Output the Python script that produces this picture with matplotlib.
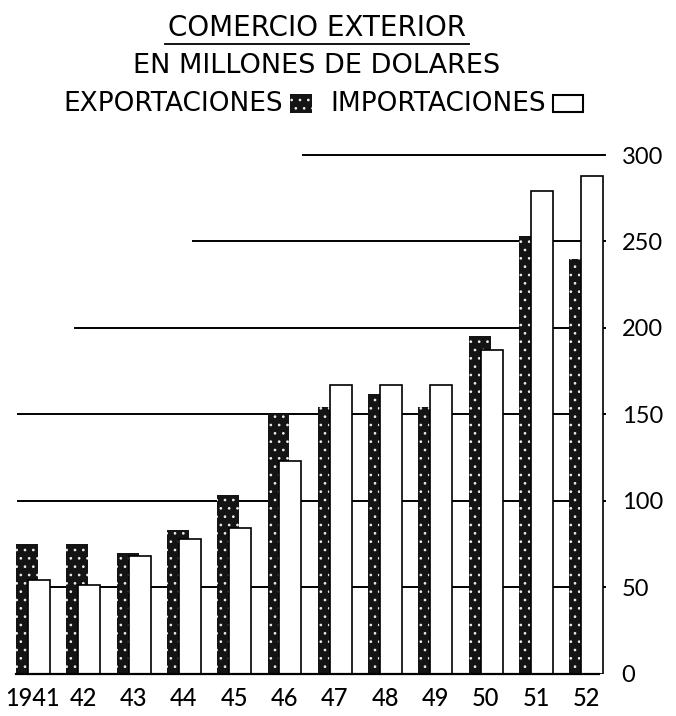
import matplotlib
matplotlib.use("Agg")
import matplotlib.pyplot as plt
from matplotlib.lines import Line2D
from matplotlib.patches import Rectangle

# data (millones de dolares)
years = ["1941", "42", "43", "44", "45", "46", "47", "48", "49", "50", "51", "52"]
exportaciones = [75, 75, 70, 83, 103, 150, 154, 162, 154, 195, 253, 240]
importaciones = [54, 51, 68, 78, 84, 123, 167, 167, 167, 187, 279, 288]
yticks = [0, 50, 100, 150, 200, 250, 300]

# gridlines start at a staircase, as fraction of axes width
grid_start = {50: 0.017, 100: 0.017, 150: 0.017, 200: 0.112, 250: 0.31, 300: 0.494}

W, H = 676, 716
fig = plt.figure(figsize=(W / 100, H / 100), dpi=100)
fig.patch.set_facecolor("white")

def fx(px):
    return px / W

def fy(px):
    return (H - px) / H

plt.rcParams["hatch.linewidth"] = 0.7
DARK = "#141414"

ax = fig.add_axes([fx(8), fy(673.5), fx(605) - fx(8), fy(155) - fy(673.5)])
ax.set_xlim(-0.497, 11.372)
ax.set_ylim(0, 300)

for v, s in grid_start.items():
    ax.axhline(v, xmin=s, xmax=1, color="black", lw=1.4, zorder=1, clip_on=False)
ax.axhline(0, xmin=0.013, xmax=0.99, color="black", lw=1.6, zorder=4, clip_on=False)

x = list(range(len(years)))
bw = 0.437
off = 0.119
ax.bar([i - off for i in x], exportaciones, width=bw, color=DARK,
       edgecolor="#f0f0f0", linewidth=0, hatch="..", zorder=2)
ax.bar([i + off for i in x], importaciones, width=bw, color="white",
       edgecolor="black", linewidth=1.2, zorder=3)

for sp in ax.spines.values():
    sp.set_visible(False)

ax.yaxis.tick_right()
ax.set_yticks(yticks)
ax.set_yticklabels([str(t) for t in yticks], fontsize=17, family="Lato")
ax.tick_params(axis="y", length=0, pad=12)
ax.set_xticks(x)
ax.set_xticklabels(years, fontsize=17, family="Lato", fontweight="medium")
ax.tick_params(axis="x", length=0, pad=10)

# titles
cx = fx(317)
title = fig.text(cx, fy(28), "COMERCIO EXTERIOR", ha="center", va="center",
                 fontsize=20, family="DejaVu Sans")
fig.canvas.draw()
bb = title.get_window_extent()
fig.add_artist(Line2D([bb.x0 / W - 0.004, bb.x1 / W + 0.004], [fy(44), fy(44)],
                      color="black", lw=1.3))
fig.text(cx, fy(66), "EN MILLONES DE DOLARES", ha="center", va="center",
         fontsize=19.5, family="DejaVu Sans")

# legend line
fig.text(fx(283), fy(104), "EXPORTACIONES", ha="right", va="center",
         fontsize=19, family="DejaVu Sans")
fig.add_artist(Rectangle((fx(290), fy(113)), fx(22), fy(94) - fy(113),
                         facecolor=DARK, edgecolor="#f0f0f0", linewidth=0,
                         hatch="..", transform=fig.transFigure))
fig.text(fx(330), fy(104), "IMPORTACIONES", ha="left", va="center",
         fontsize=19, family="DejaVu Sans")
fig.add_artist(Rectangle((fx(553), fy(112)), fx(30), fy(95) - fy(112),
                         facecolor="white", edgecolor="black", linewidth=1.5,
                         transform=fig.transFigure))

fig.savefig("out.png", dpi=100, facecolor="white")
